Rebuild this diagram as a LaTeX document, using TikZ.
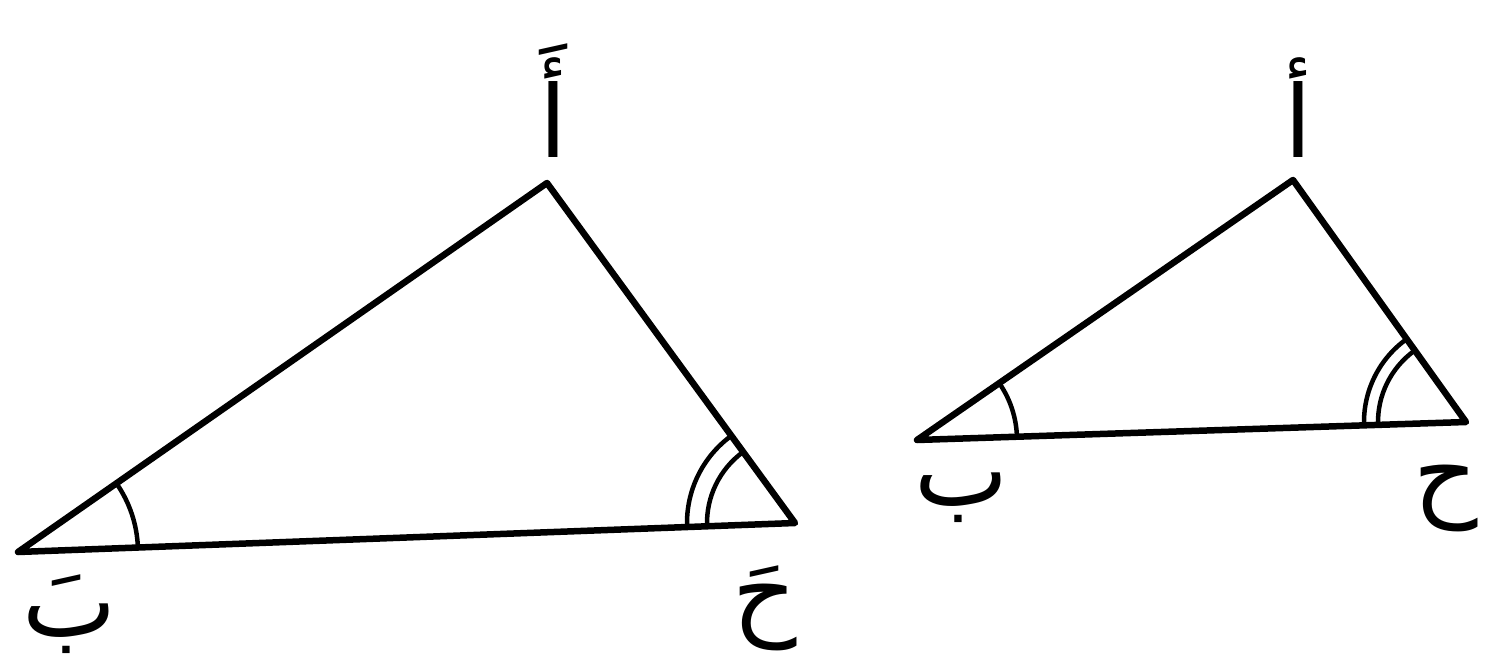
\documentclass[tikz,border=0pt]{standalone}
\usepackage{fontspec}
\newfontfamily\arabicfont[Script=Arabic]{DejaVu Sans}
\TeXXeTstate=1
\usetikzlibrary{angles}

\begin{document}
\begin{tikzpicture}[x=1pt, y=-1pt, line width=6.5pt, line join=round, line cap=round,
    lbl/.style={font=\arabicfont\fontsize{100}{110}\selectfont, inner sep=0pt, anchor=base},
    arcmark/.style={draw, line width=4.5pt}]
    \useasboundingbox (0,0) rectangle (1489,671);
    % large triangle
    \coordinate (A1) at (547,183);
    \coordinate (B1) at (18,552);
    \coordinate (C1) at (795,523);
    \draw (A1) -- (B1) -- (C1) -- cycle;
    \pic[arcmark, angle radius=120pt] {angle=C1--B1--A1};
    \pic[arcmark, angle radius=88pt] {angle=A1--C1--B1};
    \pic[arcmark, angle radius=108pt] {angle=A1--C1--B1};
    \node[lbl] (a1) at (553,158) {\beginR أَ\endR};
    \node[lbl] (b1) at (70,636) {\beginR بَ\endR};
    \node[lbl, anchor=center] (c1) at (765,608) {\beginR حَ\endR};
    % small triangle
    \coordinate (A2) at (1293,180);
    \coordinate (B2) at (917,440);
    \coordinate (C2) at (1466,422);
    \draw (A2) -- (B2) -- (C2) -- cycle;
    \pic[arcmark, angle radius=100pt] {angle=C2--B2--A2};
    \pic[arcmark, angle radius=88pt] {angle=A2--C2--B2};
    \pic[arcmark, angle radius=102pt] {angle=A2--C2--B2};
    \node[lbl] (a2) at (1298,158) {\beginR أ\endR};
    \node[lbl] (b2) at (962,505) {\beginR ب\endR};
    \node[lbl, anchor=center] (c2) at (1446,498) {\beginR ح\endR};
\end{tikzpicture}
\end{document}
